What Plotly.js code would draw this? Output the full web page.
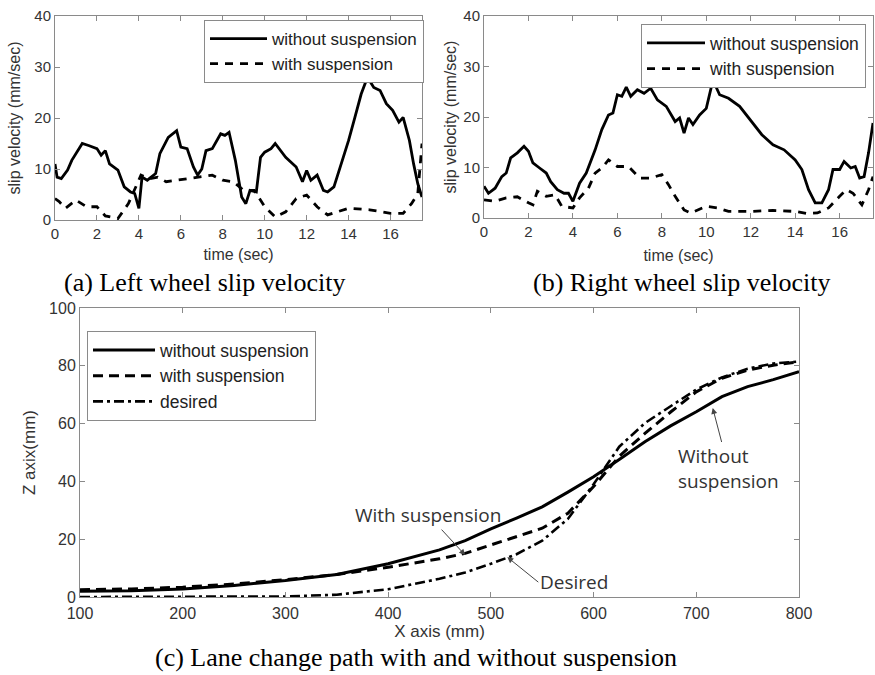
<!DOCTYPE html>
<html>
<head>
<meta charset="utf-8">
<script src="https://cdn.plot.ly/plotly-3.0.1.min.js"></script>
<style>
  html, body { margin: 0; padding: 0; background: #ffffff; }
  #chart { width: 875px; height: 675px; }
</style>
</head>
<body>
<div id="chart"></div>
<script>
// ---------- (a) Left wheel slip velocity ----------
var leftTimeWithout = [0,0.1,0.3,0.6,0.8,1.0,1.3,1.6,2.0,2.2,2.4,2.6,3.0,3.3,3.6,3.8,4.0,4.15,4.4,4.8,5.0,5.4,5.8,6.0,6.3,6.6,6.8,7.0,7.2,7.5,7.9,8.1,8.3,8.6,8.9,9.1,9.3,9.6,9.8,10.0,10.3,10.5,11.0,11.5,11.8,12.0,12.2,12.5,12.8,13.0,13.3,13.7,14.0,14.3,14.6,14.9,15.2,15.5,15.8,16.1,16.4,16.6,16.9,17.1,17.3,17.5];
var leftSlipWithout = [11,8.4,8.1,9.8,11.7,13,15,14.6,14,12.7,13.6,11,9.8,6.5,5.5,5.2,2.3,8.4,7.8,9.1,13,16.2,17.5,14.3,14,10.4,8.8,10,13.6,14,16.9,16.6,17.2,11.7,4.5,3.2,5.8,5.5,12.3,13.3,14,15,12.3,10.4,7.5,9.7,7.8,8.8,5.8,5.5,6.5,11.7,15.6,20.1,24.7,28,26,25.4,22.8,21.5,19.2,20.1,15.6,11,7.1,4.5];
var leftTimeWith = [0,0.2,0.5,1.0,1.5,2.0,2.4,3.0,3.5,3.9,4.1,4.5,4.9,5.3,5.8,6.5,7.0,7.5,8.0,8.5,9.0,9.5,10.0,10.5,11.0,11.5,12.0,12.5,13.0,14.0,15.0,16.0,16.6,17.0,17.3,17.5];
var leftSlipWith = [4.2,3.6,2.3,3.9,2.6,2.6,0.8,0.3,3.2,6.8,8.8,8.1,8.4,7.5,7.8,8.1,8.4,8.8,7.8,7.5,5.8,5.8,2.6,0.6,1.6,4.2,4.9,2.6,1.0,2.3,2.0,1.3,1.3,3.2,5.2,15];

// ---------- (b) Right wheel slip velocity ----------
var rightTimeWithout = [0,0.2,0.5,0.8,1.0,1.2,1.5,1.8,2.0,2.2,2.5,2.8,3.0,3.3,3.6,3.8,4.0,4.3,4.6,5.0,5.3,5.6,5.8,6.0,6.2,6.4,6.6,6.9,7.2,7.5,7.8,8.2,8.6,8.8,9.0,9.2,9.4,9.7,10.0,10.3,10.6,11.0,11.5,12.0,12.5,13.0,13.5,14.0,14.3,14.6,14.9,15.2,15.5,15.7,16.0,16.2,16.5,16.7,16.9,17.1,17.3,17.5];
var rightSlipWithout = [6.3,4.9,5.9,8.2,8.9,11.9,12.9,14.2,13.2,10.9,9.9,8.9,7.2,5.6,4.9,4.9,3.3,6.9,8.9,13.5,17.5,20.4,20.8,24.4,24.1,25.9,24.1,25.4,24.7,25.7,23.4,22.1,19.1,19.8,16.8,19.8,18.5,20.4,21.7,27.3,24.4,23.7,22.1,19.4,16.5,14.5,13.5,11.5,9.6,5.6,3,3,5.6,9.6,9.6,11.2,9.9,10.2,7.9,8.2,12.9,18.8];
var rightTimeWith = [0,0.5,1.0,1.5,2.0,2.2,2.4,2.8,3.2,3.5,4.0,4.3,4.7,5.0,5.3,5.6,6.0,6.5,7.0,7.5,8.0,8.3,8.6,9.0,9.3,10.0,10.5,11.0,12.0,13.0,14.0,14.5,15.0,15.5,16.0,16.3,16.6,17.0,17.3,17.5];
var rightSlipWith = [3.6,3.3,4.0,4.2,3.0,2.6,5.3,4.3,4.6,2.3,2.0,4.0,5.9,8.9,9.9,11.5,10.2,10.2,7.9,7.9,8.6,6.6,4.3,1.6,1.0,2.3,2.0,1.3,1.3,1.5,1.3,0.9,1.0,2.0,4.3,5.6,4.9,2.6,5.6,8.2];

// ---------- (c) Lane change path ----------
var pathX = [100,150,200,250,300,350,400,450,475,500,525,550,575,600,625,650,675,700,725,750,775,800];
var pathWithout = [2,2.2,2.8,4,5.7,7.8,11.5,16.3,19.5,23.6,27.3,31.2,36.3,41.6,47.6,53.7,59.2,64.1,69.3,72.8,75.2,78];
var pathWith = [2.5,2.8,3.4,4.5,6,7.8,10.3,13.2,15.1,18,21,23.8,29,38.2,48.7,56.6,64,71,75.7,78.5,80.2,81.4];
var pathDesired = [0,0,0,0,0.2,0.8,2.7,6.3,8.5,11.5,14.8,19.5,27,39,52,60.2,66,71.8,76,79,80.8,81.5];

// labels
var seriesNames = ['without suspension', 'with suspension', 'desired'];
var slipTicks = [0,2,4,6,8,10,12,14,16];
var captions = ['(a) Left wheel slip velocity', '(b) Right wheel slip velocity', '(c) Lane change path with and without suspension'];

var W = 875, H = 675;
function px(v) { return v / W; }
function py(v) { return 1 - v / H; }

var sans = 'Liberation Sans, Arial, sans-serif';
var serif = 'Liberation Serif, Times New Roman, serif';
var frameCol = '#8a8a8a';
var textCol = '#333333';

function axisBase(extra) {
  var a = {
    showgrid: false, zeroline: false, showline: true, mirror: 'ticks',
    linecolor: frameCol, linewidth: 1, ticks: 'inside', ticklen: 5,
    tickcolor: frameCol, tickwidth: 1,
    tickfont: {family: sans, size: 15, color: textCol},
    automargin: false, fixedrange: true
  };
  for (var k in extra) a[k] = extra[k];
  return a;
}

var traces = [
  {x: leftTimeWithout, y: leftSlipWithout, name: seriesNames[0], mode: 'lines',
   line: {color: '#000', width: 2.8}, xaxis: 'x', yaxis: 'y', legend: 'legend'},
  {x: leftTimeWith, y: leftSlipWith, name: seriesNames[1], mode: 'lines',
   line: {color: '#000', width: 2.8, dash: '8px,7px'}, xaxis: 'x', yaxis: 'y', legend: 'legend'},
  {x: rightTimeWithout, y: rightSlipWithout, name: seriesNames[0], mode: 'lines',
   line: {color: '#000', width: 2.8}, xaxis: 'x2', yaxis: 'y2', legend: 'legend2'},
  {x: rightTimeWith, y: rightSlipWith, name: seriesNames[1], mode: 'lines',
   line: {color: '#000', width: 2.8, dash: '8px,7px'}, xaxis: 'x2', yaxis: 'y2', legend: 'legend2'},
  {x: pathX, y: pathWithout, name: seriesNames[0], mode: 'lines', line: {color: '#000', width: 3},
   xaxis: 'x3', yaxis: 'y3', legend: 'legend3'},
  {x: pathX, y: pathWith, name: seriesNames[1], mode: 'lines', line: {color: '#000', width: 3, dash: '10px,6px'},
   xaxis: 'x3', yaxis: 'y3', legend: 'legend3'},
  {x: pathX, y: pathDesired, name: seriesNames[2], mode: 'lines', line: {color: '#000', width: 2.6, dash: '10px,4px,3px,4px'},
   xaxis: 'x3', yaxis: 'y3', legend: 'legend3'}
];

function legendCfg(x, y, size, iw) {
  return {
    x: x, y: y, xanchor: 'left', yanchor: 'top',
    bgcolor: '#ffffff', bordercolor: frameCol, borderwidth: 1,
    font: {family: sans, size: size, color: '#222'},
    itemwidth: iw, tracegroupgap: 0
  };
}

var titleFont = {family: sans, size: 16, color: textCol};

var layout = {
  width: W, height: H,
  margin: {l: 0, r: 0, t: 0, b: 0},
  paper_bgcolor: '#ffffff', plot_bgcolor: '#ffffff',
  showlegend: true,
  xaxis: axisBase({domain: [px(55), px(422)], range: [0, 17.5], tickvals: slipTicks, anchor: 'y',
    title: {text: 'time (sec)', font: titleFont, standoff: 7}}),
  yaxis: axisBase({domain: [py(220), py(16)], range: [0, 40], dtick: 10, anchor: 'x',
    title: {text: 'slip velocity (mm/sec)', font: titleFont, standoff: 9}}),
  xaxis2: axisBase({domain: [px(484), px(873)], range: [0, 17.5], tickvals: slipTicks, anchor: 'y2',
    title: {text: 'time (sec)', font: titleFont, standoff: 10}}),
  yaxis2: axisBase({domain: [py(218), py(16)], range: [0, 40], dtick: 10, anchor: 'x2',
    title: {text: 'slip velocity (mm/sec)', font: titleFont, standoff: 2}}),
  xaxis3: axisBase({domain: [px(80), px(799)], range: [100, 800], dtick: 100, anchor: 'y3',
    tickfont: {family: sans, size: 16, color: textCol}, ticklabelstandoff: 2,
    title: {text: 'X axis (mm)', font: {family: sans, size: 17, color: textCol}, standoff: 3}}),
  yaxis3: axisBase({domain: [py(597), py(308)], range: [0, 100], dtick: 20, anchor: 'x3',
    tickfont: {family: sans, size: 16, color: textCol},
    title: {text: 'Z axix(mm)', font: {family: sans, size: 17, color: textCol}, standoff: 9}}),
  legend: legendCfg(px(204), py(20), 17, 57),
  legend2: legendCfg(px(641), py(24), 17.5, 58),
  legend3: legendCfg(px(87), py(331), 17.5, 62),
  annotations: [
    {xref: 'paper', yref: 'paper', x: px(205), y: py(282), xanchor: 'center', yanchor: 'middle',
     text: captions[0], showarrow: false, font: {family: serif, size: 26, color: '#000'}},
    {xref: 'paper', yref: 'paper', x: px(682), y: py(282), xanchor: 'center', yanchor: 'middle',
     text: captions[1], showarrow: false, font: {family: serif, size: 26, color: '#000'}},
    {xref: 'paper', yref: 'paper', x: px(416), y: py(657), xanchor: 'center', yanchor: 'middle',
     text: captions[2], showarrow: false, font: {family: serif, size: 26, color: '#000'}},
    {xref: 'x3', yref: 'y3', x: 475, y: 14.5, ax: -37, ay: -40, text: 'With suspension',
     showarrow: true, arrowhead: 2, arrowsize: 1.2, arrowwidth: 1, arrowcolor: '#444',
     font: {family: 'Open Sans, sans-serif', size: 19, color: '#333'}},
    {xref: 'x3', yref: 'y3', x: 516, y: 13.8, ax: 31, ay: 25, text: 'Desired', xanchor: 'left', yanchor: 'middle',
     showarrow: true, arrowhead: 2, arrowsize: 1.2, arrowwidth: 1, arrowcolor: '#444',
     font: {family: 'Open Sans, sans-serif', size: 19, color: '#333'}},
    {xref: 'x3', yref: 'y3', x: 716, y: 65.4, ax: 16, ay: 61, text: 'Without<br>suspension', align: 'left',
     showarrow: true, arrowhead: 2, arrowsize: 1.2, arrowwidth: 1, arrowcolor: '#444',
     font: {family: 'Open Sans, sans-serif', size: 19, color: '#333'}}
  ]
};

Plotly.newPlot('chart', traces, layout, {displayModeBar: false, staticPlot: true});
</script>
</body>
</html>
